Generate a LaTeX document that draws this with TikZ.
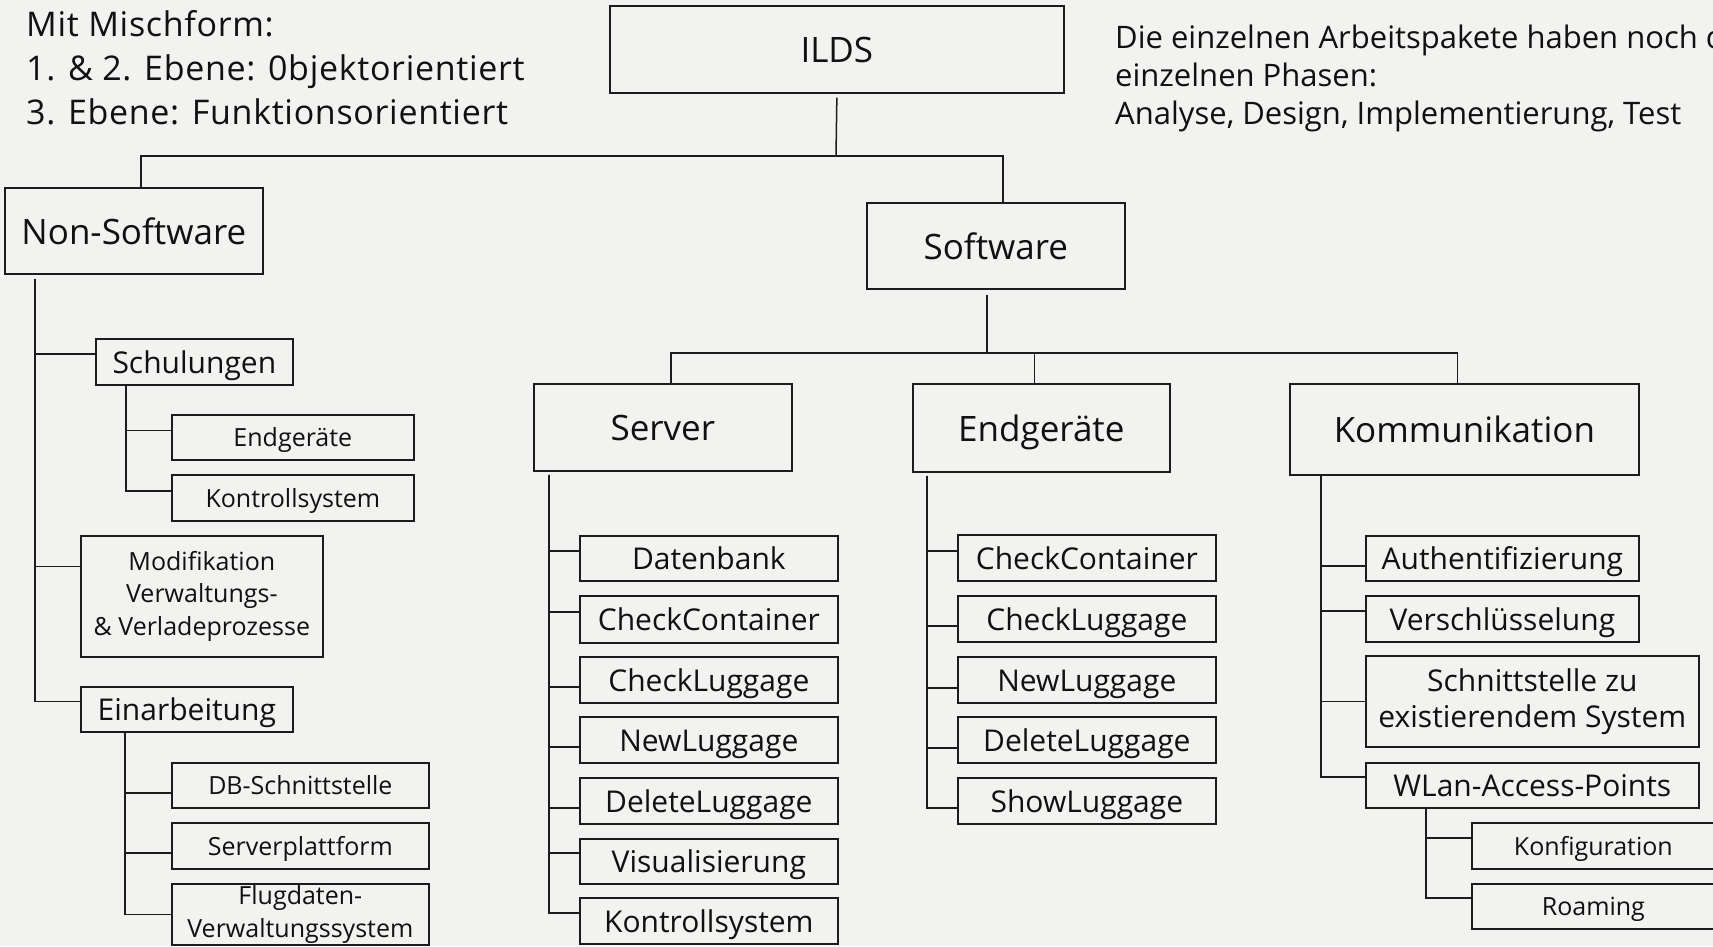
\documentclass[tikz,border=0pt]{standalone}
\usepackage{fontspec}
\setmainfont{Open Sans}
\newfontfamily\spacedfont[LetterSpace=2.0]{Open Sans}
\definecolor{bgc}{RGB}{242,242,240}
\definecolor{linec}{RGB}{28,28,28}
\definecolor{txtc}{RGB}{17,17,17}
\tikzset{
  box/.style={draw=linec, line width=1.7pt, inner sep=0pt, anchor=north west, align=center, text=txtc},
  bigf/.style={font=\fontsize{35}{42}\selectfont},
  midf/.style={font=\fontsize{30}{36}\selectfont},
  smlf/.style={font=\fontsize{25}{32.5}\selectfont},
  big/.style={box, bigf, text height=27pt, text depth=0pt},
  mid/.style={box, midf, text height=22.8pt, text depth=0pt},
  sml/.style={box, smlf, text height=19pt, text depth=0pt},
  midm/.style={box, midf},
  smlm/.style={box, smlf},
  conn/.style={draw=linec, line width=1.5pt},
  lefttxt/.style={anchor=base west, inner sep=0pt, text=txtc, font=\spacedfont\fontsize{34}{40}\selectfont},
  righttxt/.style={anchor=base west, inner sep=0pt, text=txtc, font=\fontsize{31}{38}\selectfont}
}
\begin{document}
\begin{tikzpicture}[x=1pt,y=-1pt]
\fill[bgc] (0,0) rectangle (1713,946);
\useasboundingbox (0,0) rectangle (1713,946);
\clip (0,0) rectangle (1713,946);

% notes
\node[lefttxt] (l1) at (26,36) {Mit Mischform:};
\node[lefttxt] (l2) at (26,80) {1. \& 2. Ebene: 0bjektorientiert};
\node[lefttxt] (l3) at (26,124) {3. Ebene: Funktionsorientiert};
\node[righttxt] (r1) at (1115,48) {Die einzelnen Arbeitspakete haben noch d};
\node[righttxt] (r2) at (1115,86) {einzelnen Phasen:};
\node[righttxt] (r3) at (1115,124) {Analyse, Design, Implementierung, Test};

% level 0/1
\node[big, minimum width=454pt, minimum height=87pt] (ilds) at (609,5) {ILDS};
\node[big, minimum width=258pt, minimum height=86pt] (ns) at (4,187) {Non-Software};
\node[big, minimum width=258pt, minimum height=86pt] (sw) at (866,202) {Software};

% Non-Software subtree
\node[mid, minimum width=197pt, minimum height=46pt] (schul) at (95,338) {Schulungen};
\node[sml, minimum width=242pt, minimum height=45pt] (eg1) at (171,414) {Endgeräte};
\node[sml, minimum width=242pt, minimum height=46pt] (ks1) at (171,474) {Kontrollsystem};
\node[smlm, minimum width=242pt, minimum height=121pt] (mod) at (80,535) {Modifikation\\Verwaltungs-\\\& Verladeprozesse};
\node[mid, minimum width=212pt, minimum height=45pt] (einarb) at (80,686) {Einarbeitung};
\node[sml, minimum width=257pt, minimum height=45pt] (db) at (171,762) {DB-Schnittstelle};
\node[sml, minimum width=257pt, minimum height=46pt] (spf) at (171,822) {Serverplattform};
\node[smlm, minimum width=257pt, minimum height=61pt] (flug) at (171,883) {Flugdaten-\\Verwaltungssystem};

% Software level 2
\node[big, minimum width=258pt, minimum height=87pt] (srv) at (533,383) {Server};
\node[big, minimum width=257pt, minimum height=88pt] (eg) at (912,383) {Endgeräte};
\node[big, minimum width=349pt, minimum height=91pt] (ko) at (1289,383) {Kommunikation};

% Server children
\node[mid, minimum width=258pt, minimum height=45pt] (s1) at (579,535) {Datenbank};
\node[mid, minimum width=258pt, minimum height=47pt] (s2) at (579,595) {CheckContainer};
\node[mid, minimum width=258pt, minimum height=46pt] (s3) at (579,656) {CheckLuggage};
\node[mid, minimum width=258pt, minimum height=46pt] (s4) at (579,716) {NewLuggage};
\node[mid, minimum width=258pt, minimum height=46pt] (s5) at (579,777) {DeleteLuggage};
\node[mid, minimum width=258pt, minimum height=45pt] (s6) at (579,838) {Visualisierung};
\node[mid, minimum width=258pt, minimum height=46pt] (s7) at (579,897) {Kontrollsystem};

% Endgeraete children
\node[mid, minimum width=258pt, minimum height=46pt] (e1) at (957,534) {CheckContainer};
\node[mid, minimum width=258pt, minimum height=46pt] (e2) at (957,595) {CheckLuggage};
\node[mid, minimum width=258pt, minimum height=46pt] (e3) at (957,656) {NewLuggage};
\node[mid, minimum width=258pt, minimum height=46pt] (e4) at (957,716) {DeleteLuggage};
\node[mid, minimum width=258pt, minimum height=46pt] (e5) at (957,777) {ShowLuggage};

% Kommunikation children
\node[mid, minimum width=273pt, minimum height=45pt] (k1) at (1365,535) {Authentifizierung};
\node[mid, minimum width=273pt, minimum height=46pt] (k2) at (1365,595) {Verschlüsselung};
\node[midm, minimum width=333pt, minimum height=91pt] (k3) at (1365,655) {Schnittstelle zu\\existierendem System};
\node[mid, minimum width=333pt, minimum height=45pt] (k4) at (1365,762) {WLan-Access-Points};
\node[sml, minimum width=243pt, minimum height=46pt] (k5) at (1471,822) {Konfiguration};
\node[sml, minimum width=243pt, minimum height=45pt] (k6) at (1471,883) {Roaming};

% top connectors
\coordinate (j1) at (836,156);
\draw[conn] ([yshift=-4pt]ilds.south) -- (j1);
\draw[conn] (j1) -| ([xshift=7pt]ns.north);
\draw[conn] (j1) -| ([xshift=7pt]sw.north);
\coordinate (j2) at (987,353);
\draw[conn] (sw.south -| j2) ++(0,5) -- (j2);
\draw[conn] (j2) -| ([xshift=8pt]srv.north);
\draw[conn] (j2) -| ([xshift=-7pt]eg.north);
\draw[conn] (j2) -| ([xshift=-7pt]ko.north);

% Non-Software branches
\coordinate (tns) at ([xshift=31pt,yshift=-4pt]ns.south west);
\draw[conn] (tns) |- ([yshift=8pt]schul.west);
\draw[conn] (tns) |- ([yshift=30pt]mod.west);
\draw[conn] (tns) |- ([yshift=8pt]einarb.west);
\coordinate (tschul) at ([xshift=31pt]schul.south west);
\draw[conn] (tschul) |- ([yshift=7pt]eg1.west);
\draw[conn] (tschul) |- ([yshift=7pt]ks1.west);
\coordinate (tein) at ([xshift=45pt]einarb.south west);
\draw[conn] (tein) |- ([yshift=-7.5pt]db.west);
\draw[conn] (tein) |- ([yshift=-7pt]spf.west);
\draw[conn] (tein) |- (flug.west);

% Server branches
\coordinate (tsrv) at ([xshift=16pt,yshift=-3pt]srv.south west);
\draw[conn] (tsrv) |- ([yshift=7.5pt]s1.west);
\draw[conn] (tsrv) |- ([yshift=7.5pt]s2.west);
\draw[conn] (tsrv) |- ([yshift=-7pt]s3.west);
\draw[conn] (tsrv) |- ([yshift=-7pt]s4.west);
\draw[conn] (tsrv) |- ([yshift=-7pt]s5.west);
\draw[conn] (tsrv) |- ([yshift=8.5pt]s6.west);
\draw[conn] (tsrv) |- ([yshift=8pt]s7.west);

% Endgeraete branches
\coordinate (teg) at ([xshift=15pt,yshift=-3pt]eg.south west);
\draw[conn] (teg) |- ([yshift=7pt]e1.west);
\draw[conn] (teg) |- ([yshift=-7pt]e2.west);
\draw[conn] (teg) |- ([yshift=-8pt]e3.west);
\draw[conn] (teg) |- ([yshift=-8pt]e4.west);
\draw[conn] (teg) |- ([yshift=-7pt]e5.west);

% Kommunikation branches
\coordinate (tko) at ([xshift=32pt]ko.south west);
\draw[conn] (tko) |- ([yshift=-7.5pt]k1.west);
\draw[conn] (tko) |- ([yshift=8pt]k2.west);
\draw[conn] (tko) |- (k3.west);
\draw[conn] (tko) |- ([yshift=8.5pt]k4.west);
\coordinate (twl) at ([xshift=61pt]k4.south west);
\draw[conn] (twl) |- ([yshift=8pt]k5.west);
\draw[conn] (twl) |- ([yshift=8.5pt]k6.west);
\end{tikzpicture}
\end{document}
